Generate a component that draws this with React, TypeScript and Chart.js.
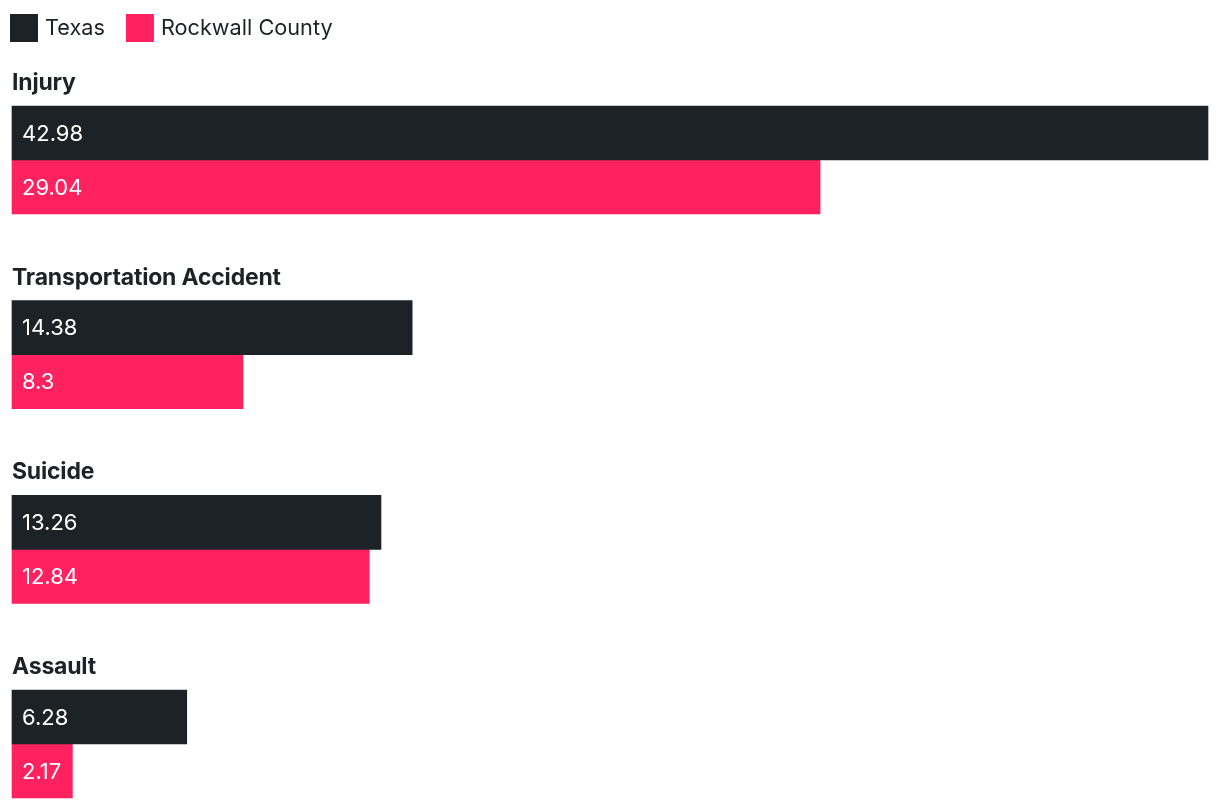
import React, { useEffect, useRef } from "react";
import { Chart, registerables } from "chart.js";

Chart.register(...registerables);

const categories: string[] = ["Injury", "Transportation Accident", "Suicide", "Assault"];
const seriesNames: string[] = ["Texas", "Rockwall County"];
const texasValues: number[] = [42.98, 14.38, 13.26, 6.28];
const rockwallValues: number[] = [29.04, 8.3, 12.84, 2.17];
const seriesColors: string[] = ["#1c2226", "#ff2160"];

const FONT = "Inter, 'Noto Sans', sans-serif";
const TEXT_COLOR = "#1c2226";
const BAR_THICKNESS = 54;

const labelsPlugin = {
  id: "groupLabels",
  afterDatasetsDraw(chart: any) {
    const { ctx, chartArea, scales } = chart;
    const yScale = scales.y;
    ctx.save();
    // category titles above each group
    ctx.font = `700 23px ${FONT}`;
    try { (ctx as any).letterSpacing = "-0.2px"; } catch (e) {}
    ctx.fillStyle = TEXT_COLOR;
    ctx.textAlign = "left";
    ctx.textBaseline = "alphabetic";
    const n = chart.data.datasets.length;
    chart.data.labels.forEach((lab: string, i: number) => {
      const c = yScale.getPixelForValue(i);
      const top = c - (BAR_THICKNESS * n) / 2;
      ctx.fillText(lab, chartArea.left, top - 16);
    });
    try { (ctx as any).letterSpacing = "0px"; } catch (e) {}
    // value labels inside bars
    ctx.font = `400 22px ${FONT}`;
    ctx.fillStyle = "#ffffff";
    ctx.textBaseline = "middle";
    chart.data.datasets.forEach((ds: any, di: number) => {
      const meta = chart.getDatasetMeta(di);
      meta.data.forEach((bar: any, i: number) => {
        const v = ds.data[i];
        ctx.fillText(String(v), bar.base + 10, bar.y + 1);
      });
    });
    // legend
    ctx.font = `400 21.7px ${FONT}`;
    ctx.textBaseline = "middle";
    let x = 2;
    const boxY = 6;
    const box = 28;
    chart.data.datasets.forEach((ds: any) => {
      ctx.fillStyle = ds.backgroundColor;
      ctx.fillRect(x, boxY, box, box);
      ctx.fillStyle = TEXT_COLOR;
      const tx = x + box + 7;
      ctx.fillText(ds.label, tx, boxY + box / 2);
      x = tx + ctx.measureText(ds.label).width + 21;
    });
    ctx.restore();
  },
};

export default function App() {
  const canvasRef = useRef<HTMLCanvasElement | null>(null);

  useEffect(() => {
    if (!canvasRef.current) return;
    const chart = new Chart(canvasRef.current, {
      type: "bar",
      data: {
        labels: categories,
        datasets: [
          {
            label: seriesNames[0],
            data: texasValues,
            backgroundColor: seriesColors[0],
            borderWidth: 0,
            barThickness: BAR_THICKNESS,
            clip: false as any,
          },
          {
            label: seriesNames[1],
            data: rockwallValues,
            backgroundColor: seriesColors[1],
            borderWidth: 0,
            barThickness: BAR_THICKNESS,
            clip: false as any,
          },
        ],
      },
      options: {
        indexAxis: "y",
        animation: false,
        responsive: true,
        maintainAspectRatio: false,
        events: [],
        layout: { padding: { top: 152, bottom: 56, left: 4, right: 4 } },
        plugins: {
          legend: { display: false },
          tooltip: { enabled: false },
          title: { display: false },
        },
        scales: {
          x: { display: false, min: 0, max: 42.98 },
          y: { display: false, offset: false },
        },
      },
      plugins: [labelsPlugin],
    });
    return () => chart.destroy();
  }, []);

  return (
    <div style={{ position: "relative", width: "100%", height: "792px" }}>
      <canvas ref={canvasRef} />
    </div>
  );
}
